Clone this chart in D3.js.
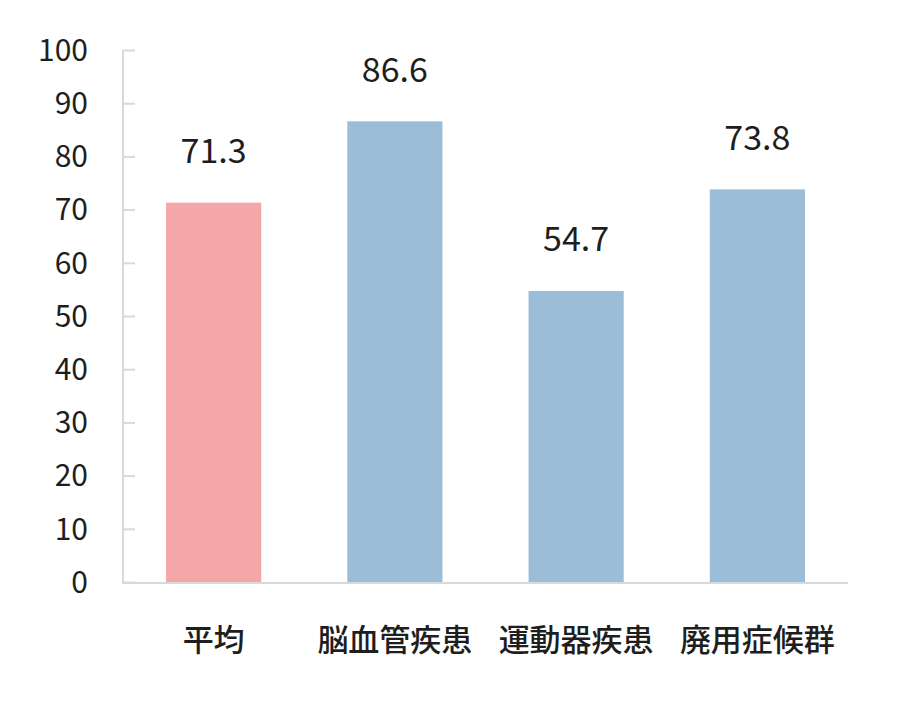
<!DOCTYPE html>
<meta charset="utf-8">
<style>
body { margin: 0; background: #fff; }
svg { font-family: "Noto Sans CJK JP", "Noto Sans", sans-serif; }
.axis path, .axis line { stroke: #d9d9d9; stroke-width: 2; }
</style>
<body>
<script src="https://cdn.jsdelivr.net/npm/d3@7"></script>
<script>

var categories = ["平均", "脳血管疾患", "運動器疾患", "廃用症候群"];
var values = [71.3, 86.6, 54.7, 73.8];
var barColors = ["#f4a6a8", "#9bbdd8", "#9bbdd8", "#9bbdd8"];
var yTicks = [0, 10, 20, 30, 40, 50, 60, 70, 80, 90, 100];

var width = 898,
    height = 704,
    margin = {left: 123, right: 50, top: 50, bottom: 122};

var svg = d3.select("body").append("svg")
    .attr("width", width)
    .attr("height", height);

var x = d3.scaleBand()
    .domain(categories)
    .range([margin.left, width - margin.right])
    .paddingInner(0.475)
    .paddingOuter(0.2375);

var y = d3.scaleLinear()
    .domain([0, 100])
    .range([height - margin.bottom, margin.top]);

// y axis with short inside ticks
var yAxis = svg.append("g")
    .attr("class", "axis")
    .attr("transform", "translate(" + margin.left + ",0)")
    .call(d3.axisRight(y).tickValues(yTicks).tickSize(12).tickFormat(""));
yAxis.select(".domain").attr("d", "M0," + y(100) + "V" + y(0));

svg.append("g")
    .selectAll("text")
    .data(yTicks)
  .enter().append("text")
    .attr("x", 88)
    .attr("y", function(d) { return y(d); })
    .attr("dy", "0.36em")
    .attr("text-anchor", "end")
    .attr("font-size", 30)
    .attr("fill", "#1e1e1e")
    .text(function(d) { return d; });

svg.selectAll(".bar")
    .data(values)
  .enter().append("rect")
    .attr("class", "bar")
    .attr("x", function(d, i) { return x(categories[i]); })
    .attr("y", function(d) { return y(d); })
    .attr("width", x.bandwidth())
    .attr("height", function(d) { return y(0) - y(d); })
    .attr("fill", function(d, i) { return barColors[i]; });

// x axis line
svg.append("line")
    .attr("x1", margin.left - 1)
    .attr("x2", width - margin.right)
    .attr("y1", y(0) + 1)
    .attr("y2", y(0) + 1)
    .attr("stroke", "#d9d9d9")
    .attr("stroke-width", 2);

svg.selectAll(".val")
    .data(values)
  .enter().append("text")
    .attr("class", "val")
    .attr("x", function(d, i) { return x(categories[i]) + x.bandwidth() / 2; })
    .attr("y", function(d) { return y(d) - 52; })
    .attr("dy", "0.36em")
    .attr("text-anchor", "middle")
    .attr("font-size", 34)
    .attr("fill", "#1e1e1e")
    .text(function(d) { return d.toFixed(1); });

svg.selectAll(".cat")
    .data(categories)
  .enter().append("text")
    .attr("class", "cat")
    .attr("x", function(d) { return x(d) + x.bandwidth() / 2; })
    .attr("y", 640)
    .attr("dy", "0.36em")
    .attr("text-anchor", "middle")
    .attr("font-size", 31)
    .attr("font-weight", 500)
    .attr("fill", "#1e1e1e")
    .text(function(d) { return d; });

</script>
